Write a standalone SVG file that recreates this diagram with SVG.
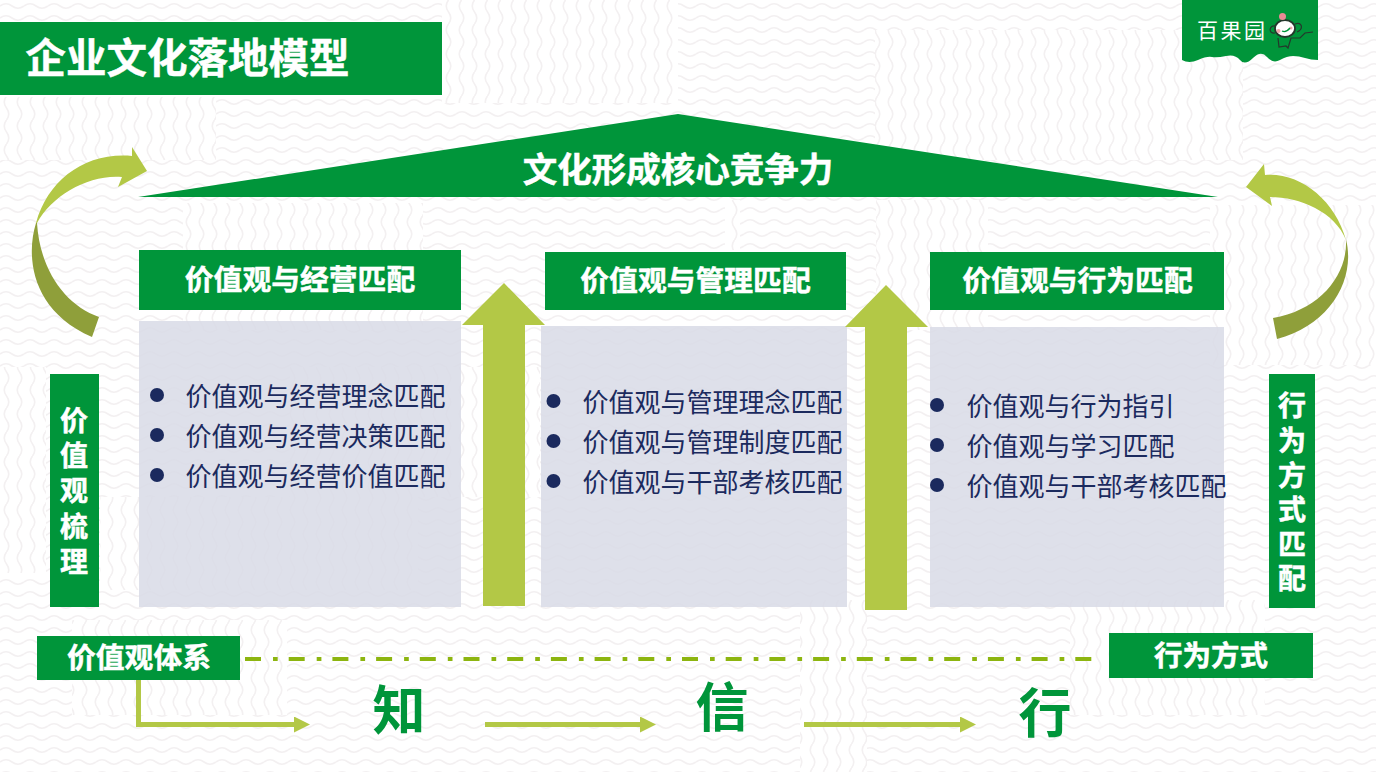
<svg xmlns="http://www.w3.org/2000/svg" width="1376" height="772" viewBox="0 0 1376 772">
<style>
.g{fill:#00953a}
.lime{fill:#b3c846}
.dark{fill:#8f9f3a}
.panel{fill:#d9dbe7;fill-opacity:.86}
text{font-family:"Noto Sans CJK SC","Liberation Sans",sans-serif}
.h{font-weight:700;fill:#fff;text-anchor:middle;stroke:#fff;stroke-width:.5}
.b{font-size:26px;fill:#1b2a5e;font-weight:400}
.dot{fill:#1b2a5e}
.big{font-size:53px;font-weight:700;fill:#00953a;text-anchor:middle}
.wave{fill:none;stroke:#f3f0f1;stroke-width:1.6}
.conn{fill:none;stroke:#b3c846;stroke-width:5}
.mk{fill:none;stroke:#24382c;stroke-width:1.2}
</style>
<defs>
<pattern id="ph" width="24" height="12" patternUnits="userSpaceOnUse">
<path class="wave" d="M0 6Q6 1.500 12 6T24 6"/>
</pattern>
<pattern id="pv" width="13" height="24" patternUnits="userSpaceOnUse">
<path class="wave" d="M6.500 0Q2 6 6.500 12T6.500 24"/>
</pattern>
<marker id="ah" markerUnits="userSpaceOnUse" markerWidth="16" markerHeight="16" refX="1" refY="8" orient="auto">
<path class="lime" d="M0 0L16 8L0 16Z"/>
</marker>
</defs>
<g id="background">
<rect width="1376" height="772" fill="#fff"/>
<rect width="1376" height="772" fill="url(#ph)"/>
<g id="vertical-tiles">
<rect x="0" y="97" width="216" height="63" fill="#fff"/><rect x="0" y="97" width="216" height="63" fill="url(#pv)"/>
<rect x="442" y="0" width="236" height="103" fill="#fff"/><rect x="442" y="0" width="236" height="103" fill="url(#pv)"/>
<rect x="875" y="30" width="368" height="130" fill="#fff"/><rect x="875" y="30" width="368" height="130" fill="url(#pv)"/>
<rect x="183" y="203" width="240" height="127" fill="#fff"/><rect x="183" y="203" width="240" height="127" fill="url(#pv)"/>
<rect x="725" y="200" width="15" height="50" fill="#fff"/><rect x="725" y="200" width="15" height="50" fill="url(#pv)"/>
<rect x="876" y="200" width="112" height="130" fill="#fff"/><rect x="876" y="200" width="112" height="130" fill="url(#pv)"/>
<rect x="1210" y="205" width="166" height="160" fill="#fff"/><rect x="1210" y="205" width="166" height="160" fill="url(#pv)"/>
<rect x="0" y="367" width="46" height="206" fill="#fff"/><rect x="0" y="367" width="46" height="206" fill="url(#pv)"/>
<rect x="290" y="367" width="250" height="130" fill="#fff"/><rect x="290" y="367" width="250" height="130" fill="url(#pv)"/>
<rect x="100" y="497" width="318" height="93" fill="#fff"/><rect x="100" y="497" width="318" height="93" fill="url(#pv)"/>
<rect x="72" y="620" width="215" height="95" fill="#fff"/><rect x="72" y="620" width="215" height="95" fill="url(#pv)"/>
<rect x="800" y="600" width="67" height="172" fill="#fff"/><rect x="800" y="600" width="67" height="172" fill="url(#pv)"/>
<rect x="1070" y="600" width="195" height="115" fill="#fff"/><rect x="1070" y="600" width="195" height="115" fill="url(#pv)"/>
</g>
</g>
<g id="title"><rect class="g" x="0" y="22" width="442" height="73"/><text class="h" x="187.500" y="73" font-size="40.500">企业文化落地模型</text></g>
<g id="logo">
<path class="g" d="M1182 0H1318V60Q1311 60 1305 58T1293 56T1280 60T1267 57T1253 58T1240 60T1226 56T1212 57T1198 60T1182 60Z"/>
<text x="1197" y="38" font-size="21" font-weight="400" fill="#fff" letter-spacing="2.500">百果园</text>
<g id="monkey">
<path class="mk" d="M1278 38L1279 47L1286 46L1288 48L1291 38L1300 38L1305 33L1313 32"/>
<path class="mk" d="M1275 33C1268 34 1269 25 1275 26M1295 24C1302 21 1304 29 1297 32"/>
<ellipse cx="1285" cy="28.500" rx="10" ry="8.500" fill="#fff" stroke="#24382c" stroke-width="1.800"/>
<circle cx="1282.500" cy="16.500" r="3.500" fill="#e98a95"/>
<circle cx="1278.500" cy="31" r="2" fill="#f2a6ad"/><circle cx="1291" cy="28" r="1.500" fill="#f2a6ad"/>
<path d="M1282 31Q1286 33 1290 28" fill="none" stroke="#00953a" stroke-width="1.300"/>
</g>
</g>
<g id="roof"><path class="g" d="M138 197L678 114L1218 197Z"/><text class="h" x="678" y="182" font-size="34.500">文化形成核心竞争力</text></g>
<g id="curve-left">
<path class="lime" d="M132 147L147 171L118 187L122 177C90 174 52 195 37 223L36 223C48 180 85 152 132 156Z"/>
<path class="dark" d="M36 223C26 255 30 310 92 337L99 317C65 305 40 270 37 223Z"/>
</g>
<g id="curve-right">
<path class="lime" d="M1264 164L1246 187L1272 206L1270 197C1300 197 1335 212 1346 240C1335 200 1300 172 1265 175Z"/>
<path class="dark" d="M1346 239C1356 280 1330 325 1277 339L1273 318C1320 310 1348 275 1346 239Z"/>
</g>
<g id="col1">
<rect class="g" x="139" y="250" width="322" height="60"/><text class="h" x="300" y="290" font-size="28.800">价值观与经营匹配</text>
<rect class="panel" x="139" y="321" width="322" height="286"/>
<circle class="dot" cx="157" cy="395" r="7"/><circle class="dot" cx="157" cy="435" r="7"/><circle class="dot" cx="157" cy="475" r="7"/>
<text class="b" x="185.500" y="405.500">价值观与经营理念匹配</text><text class="b" x="185.500" y="445.500">价值观与经营决策匹配</text><text class="b" x="185.500" y="485.500">价值观与经营价值匹配</text>
</g>
<g id="col2">
<rect class="g" x="545" y="252" width="301" height="58"/><text class="h" x="695.500" y="291" font-size="28.800">价值观与管理匹配</text>
<rect class="panel" x="541" y="326" width="306" height="281"/>
<circle class="dot" cx="553.500" cy="401" r="7"/><circle class="dot" cx="553.500" cy="441" r="7"/><circle class="dot" cx="553.500" cy="481" r="7"/>
<text class="b" x="582.500" y="411.500">价值观与管理理念匹配</text><text class="b" x="582.500" y="451.500">价值观与管理制度匹配</text><text class="b" x="582.500" y="491.500">价值观与干部考核匹配</text>
</g>
<g id="col3">
<rect class="g" x="930" y="252" width="294" height="58"/><text class="h" x="1077.500" y="291" font-size="28.800">价值观与行为匹配</text>
<rect class="panel" x="930" y="327" width="294" height="280"/>
<circle class="dot" cx="937" cy="405" r="7"/><circle class="dot" cx="937" cy="445" r="7"/><circle class="dot" cx="937" cy="485" r="7"/>
<text class="b" x="966.500" y="415.500">价值观与行为指引</text><text class="b" x="966.500" y="455.500">价值观与学习匹配</text><text class="b" x="966.500" y="495.500">价值观与干部考核匹配</text>
</g>
<g id="up-arrow-1"><path class="lime" d="M504 283L545 325H525V606H483V325H462Z"/></g>
<g id="up-arrow-2"><path class="lime" d="M886 285L928 327H907V610H865V327H845Z"/></g>
<g id="side-left"><rect class="g" x="50" y="374" width="49" height="233"/>
<text class="h" font-size="28"><tspan x="74" y="431">价</tspan><tspan x="74" y="466">值</tspan><tspan x="74" y="501">观</tspan><tspan x="74" y="537">梳</tspan><tspan x="74" y="572">理</tspan></text></g>
<g id="side-right"><rect class="g" x="1269" y="374" width="46" height="234"/>
<text class="h" font-size="28"><tspan x="1292" y="416">行</tspan><tspan x="1292" y="451">为</tspan><tspan x="1292" y="486">方</tspan><tspan x="1292" y="520">式</tspan><tspan x="1292" y="555">匹</tspan><tspan x="1292" y="589">配</tspan></text></g>
<g id="box-values"><rect class="g" x="37" y="636" width="203" height="44"/><text class="h" x="139" y="668" font-size="28.800">价值观体系</text></g>
<g id="box-behavior"><rect class="g" x="1109" y="633" width="204" height="45"/><text class="h" x="1211" y="666" font-size="28.500">行为方式</text></g>
<g id="zhi"><text class="big" x="399" y="729.500">知</text></g>
<g id="xin"><text class="big" x="722" y="726.500">信</text></g>
<g id="xing"><text class="big" x="1045" y="732.500">行</text></g>
<g id="connectors">
<path d="M245 659H1097" fill="none" stroke="#8db510" stroke-width="4" stroke-dasharray="16 12 4.700 11"/>
<path class="conn" d="M138.500 680V724.500H295" marker-end="url(#ah)"/>
<path class="conn" d="M485 724.500H641" marker-end="url(#ah)"/>
<path class="conn" d="M804 724.500H961" marker-end="url(#ah)"/>
</g>
</svg>
